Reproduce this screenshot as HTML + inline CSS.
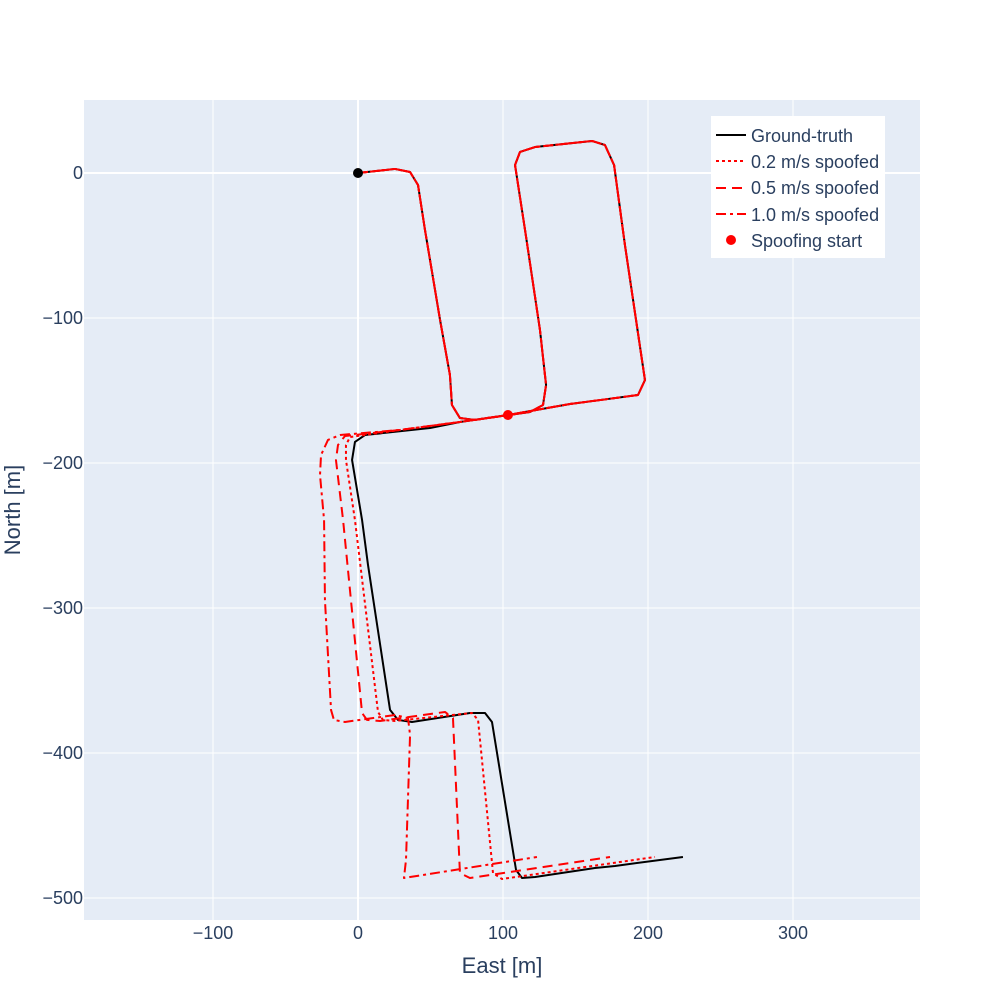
<!DOCTYPE html>
<html><head><meta charset="utf-8"><style>
body{margin:0;background:#fff;font-family:"Liberation Sans",sans-serif}
svg text{font-family:"Liberation Sans",sans-serif;fill:#2a3f5f}
</style></head><body>
<svg id="chart" width="1000" height="1000" xmlns="http://www.w3.org/2000/svg">
<rect x="84" y="100" width="836" height="820" fill="#e5ecf6"/>
<g id="grid"></g><g id="series"></g><g id="ticks"></g>
<text x="502" y="973" font-size="22" text-anchor="middle">East [m]</text>
<text transform="translate(20,510) rotate(-90)" font-size="22" text-anchor="middle">North [m]</text>
<g>
<rect x="711" y="116" width="174" height="142" fill="#fff"/>
<line x1="716" x2="746" y1="135" y2="135" stroke="#000" stroke-width="2"/><text x="751" y="142" font-size="18">Ground-truth</text>
<line x1="716" x2="746" y1="161" y2="161" stroke="red" stroke-width="2" stroke-dasharray="3,3"/><text x="751" y="168" font-size="18">0.2 m/s spoofed</text>
<line x1="716" x2="746" y1="188" y2="188" stroke="red" stroke-width="2" stroke-dasharray="10,6"/><text x="751" y="194" font-size="18">0.5 m/s spoofed</text>
<line x1="716" x2="746" y1="214" y2="214" stroke="red" stroke-width="2" stroke-dasharray="10,4,3,4"/><text x="751" y="221" font-size="18">1.0 m/s spoofed</text>
<circle cx="731" cy="240" r="5" fill="red"/><text x="751" y="247" font-size="18">Spoofing start</text>
</g>
</svg>
<script>
const xTicks=[-100,0,100,200,300];
const yTicks=[0,-100,-200,-300,-400,-500];
const common=[[0,0],[25.5,2.8],[35.9,0.7],[41.4,-8.3],[46.2,-39.3],[56.6,-101.4],[63.4,-139.3],[64.8,-160],[70.3,-169],[80.7,-170.3],[118.6,-164.8],[127.6,-160],[129.7,-146.2],[125.5,-108.3],[115.2,-39.3],[108.3,5.5],[111.7,14.5],[122.1,17.9],[161.4,22.1],[170.3,19.3],[176.6,5.5],[184.1,-49.7],[197.9,-142.8],[193.1,-153.1],[166.9,-156.6],[146.2,-159.3],[103.4,-166.9]];
const gtTail=[[70.3,-171.7],[49.7,-175.9],[4.8,-180.7],[-2.1,-185.5],[-4.1,-197.9],[2.8,-239.3],[6.9,-270.3],[22.1,-370.3],[27.6,-377.2],[37.2,-378.6],[77.2,-372.4],[87.6,-372.4],[92.4,-378.6],[109,-480.7],[113.1,-486.2],[122.1,-485.5],[163.4,-479.3],[177.2,-477.9],[224.1,-471.7]];
const s02Tail=[[70.3,-171.7],[29,-177.2],[-5.5,-182.1],[-8.3,-187.6],[-8.3,-197.9],[-2.1,-239.3],[13.8,-371.7],[17.2,-377.2],[25.5,-377.9],[78.6,-372.4],[82.8,-377.2],[93.1,-482.8],[99.3,-486.9],[204.8,-471.7]];
const s05Tail=[[70.3,-171.7],[29,-177.2],[-9,-181.4],[-13.8,-187.6],[-15.2,-197.9],[-10.3,-239.3],[2.8,-372.4],[6.2,-377.2],[15.2,-377.9],[60,-371.7],[65.5,-375.9],[70.3,-482.8],[77.2,-486.2],[173.8,-471.7]];
const s10Tail=[[70.3,-171.7],[29,-177.2],[-12.4,-180.7],[-20.7,-184.1],[-25.5,-194.5],[-26.2,-208.3],[-23.4,-239.3],[-22.8,-294.5],[-18.6,-370.3],[-16.6,-377.2],[-9,-378.6],[25.5,-373.8],[34.5,-375.9],[35.9,-387.6],[33.1,-473.8],[31.7,-486.2],[123.4,-471.7]];
const spoofStart=[103.4,-166.9];
const startPt=[0,0];
const sx=v=>358+v*1.45, sy=v=>173-v*1.45;
const NS="http://www.w3.org/2000/svg";
const mk=(t,a,p)=>{const e=document.createElementNS(NS,t);for(const k in a)e.setAttribute(k,a[k]);p.appendChild(e);return e;};
const grid=document.getElementById('grid'),ticks=document.getElementById('ticks'),ser=document.getElementById('series');
xTicks.forEach(v=>{const g=mk('line',{x1:sx(v),x2:sx(v),y1:100,y2:920,stroke:'#fff','stroke-width':v===0?2:1},grid);


const t=mk('text',{x:sx(v),y:939,'font-size':18,'text-anchor':'middle'},ticks);t.textContent=v<0?'\u2212'+(-v):v;

});
yTicks.forEach(v=>{const g=mk('line',{y1:sy(v),y2:sy(v),x1:84,x2:920,stroke:'#fff','stroke-width':v===0?2:1},grid);


const t=mk('text',{x:83,y:sy(v)+6,'font-size':18,'text-anchor':'end'},ticks);t.textContent=v<0?'\u2212'+(-v):v;

});
const pts=a=>a.map(p=>sx(p[0])+','+sy(p[1])).join(' ');
const g=mk('polyline',{points:pts(common.concat(gtTail)),fill:'none',stroke:'#000','stroke-width':2,'stroke-linejoin':'round'},ser);


[[s02Tail,'3,3','series-0-2-spoofed'],[s05Tail,'10,6','series-0-5-spoofed'],[s10Tail,'10,4,3,4','series-1-0-spoofed']].forEach(([t,d,n])=>{
const l=mk('polyline',{points:pts(common.concat(t)),fill:'none',stroke:'red','stroke-width':2,'stroke-dasharray':d,'stroke-linejoin':'round'},ser);

});
const c=mk('circle',{cx:sx(startPt[0]),cy:sy(startPt[1]),r:5,fill:'#000'},ser);


const s=mk('circle',{cx:sx(spoofStart[0]),cy:sy(spoofStart[1]),r:5,fill:'red'},ser);


</script>
</body></html>
